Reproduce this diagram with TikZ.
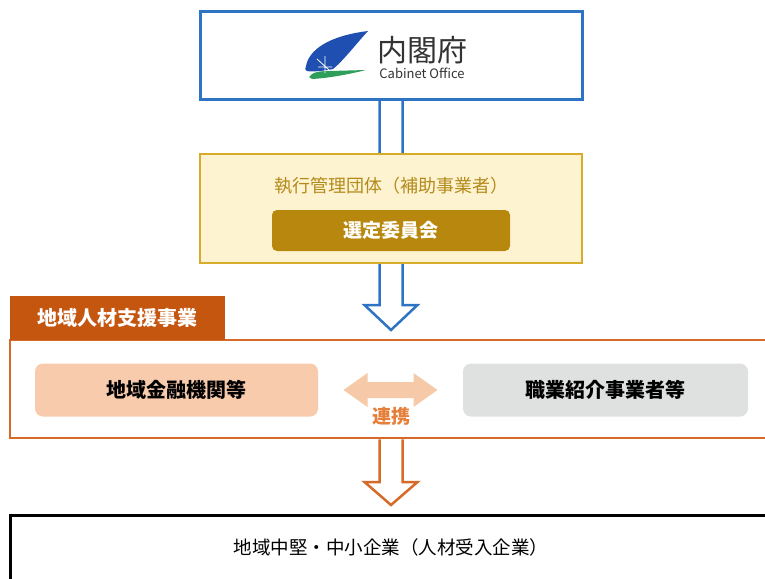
\documentclass[tikz,border=0pt]{standalone}
\usepackage{fontspec}
\setmainfont{Noto Sans CJK JP}
\usetikzlibrary{calc}
\definecolor{cabblue}{HTML}{2E74C4}
\definecolor{leafblue}{HTML}{1F4FB0}
\definecolor{cabgreen}{HTML}{2E9E5B}
\definecolor{goldline}{HTML}{D8AC2B}
\definecolor{goldfill}{HTML}{FEF3D0}
\definecolor{goldtext}{HTML}{B38A1C}
\definecolor{golddark}{HTML}{B8870E}
\definecolor{tabfill}{HTML}{C5560F}
\definecolor{orangeline}{HTML}{D66A28}
\definecolor{peach}{HTML}{F8CBAD}
\definecolor{paleg}{HTML}{DEE1DF}
\definecolor{linkfill}{HTML}{F6C9A8}
\definecolor{linktext}{HTML}{E57F3A}
\begin{document}
\begin{tikzpicture}[x=1pt,y=-1pt,
  frame/.style={draw,rectangle,inner sep=0pt},
  pill/.style={rectangle,rounded corners=8pt,inner sep=0pt,minimum height=53pt,font=\fontsize{20}{24}\selectfont\bfseries}]
\useasboundingbox (0,0) rectangle (765,578);
% boxes
\node[frame,draw=cabblue,line width=3pt,fill=white,minimum width=382pt,minimum height=87pt](cabinet) at (391,55.5){};
\coordinate (btip) at (391,330);
\coordinate (otip) at (391,505);
\draw[cabblue,line width=2.5pt]($(cabinet.south)+(-11.5,0)$)--($(btip)+(-11.5,-25)$)--($(btip)+(-26.5,-25)$)--(btip)--($(btip)+(26.5,-25)$)--($(btip)+(11.5,-25)$)--($(cabinet.south)+(11.5,0)$);
\node[frame,draw=goldline,line width=2.5pt,fill=goldfill,minimum width=382pt,minimum height=109pt](exec) at (391,208.5){};
\node[text=goldtext,font=\fontsize{18}{22}\selectfont](exectitle) at (391,186){執行管理団体（補助事業者）};
\node[rectangle,rounded corners=5pt,fill=golddark,text=white,minimum width=238pt,minimum height=41pt,font=\fontsize{19}{22}\selectfont\bfseries](committee) at (391,230.5){選定委員会};
% logo
\fill[leafblue](306,66) .. controls (309,50) and (328,36) .. (368,31) .. controls (356,44) and (344,60) .. (333,69) .. controls (324,71) and (312,72) .. (307,71) .. controls (305,70) .. (306,66)--cycle;
\fill[cabgreen](309,77) .. controls (312,72) and (320,71) .. (330,71)--(366,70) .. controls (350,74) and (330,78) .. (312,79)--cycle;
\draw[white,line width=0.8pt](325,56)--(325,73)(318,67)--(332,67)(317,59)--(329,70);
\node[text=black!80,font=\fontsize{30}{32}\selectfont](naikaku) at (422,50){内閣府};
\node[text=black!80,font=\fontsize{13}{15}\selectfont](cabeng) at (422,73){Cabinet Office};
% regional project
\node[frame,draw=orangeline,line width=2.5pt,minimum width=770pt,minimum height=98pt](regional) at (395,389){};
\node[rectangle,fill=tabfill,text=white,minimum width=215pt,minimum height=44pt,font=\fontsize{20}{24}\selectfont\bfseries](tab) at (117.5,318){地域人材支援事業};
\node[pill,fill=peach,minimum width=283pt](bank) at (176.5,390){地域金融機関等};
\node[pill,fill=paleg,minimum width=285pt](agency) at (605.5,390){職業紹介事業者等};
\coordinate (link) at ($(bank.east)!0.5!(agency.west)$);
\fill[linkfill]($(link)+(-47,0)$)--++(24,-17)--++(0,9)--++(46,0)--++(0,-9)--++(24,17)--++(-24,17)--++(0,-9)--++(-46,0)--++(0,9)--cycle;
\node[text=linktext,font=\fontsize{19}{22}\selectfont\bfseries](linklabel) at (391,416){連携};
\draw[orangeline,line width=2.5pt]($(regional.south -| exec.south)+(-11.5,0)$)--($(otip)+(-11.5,-23)$)--($(otip)+(-26.5,-23)$)--(otip)--($(otip)+(26.5,-23)$)--($(otip)+(11.5,-23)$)--($(regional.south -| exec.south)+(11.5,0)$);
% companies
\node[frame,line width=3pt,minimum width=770pt,minimum height=90pt](smes) at (395,560){};
\node[font=\fontsize{18.5}{22}\selectfont](smetext) at (391,547){地域中堅・中小企業（人材受入企業）};
\end{tikzpicture}
\end{document}
